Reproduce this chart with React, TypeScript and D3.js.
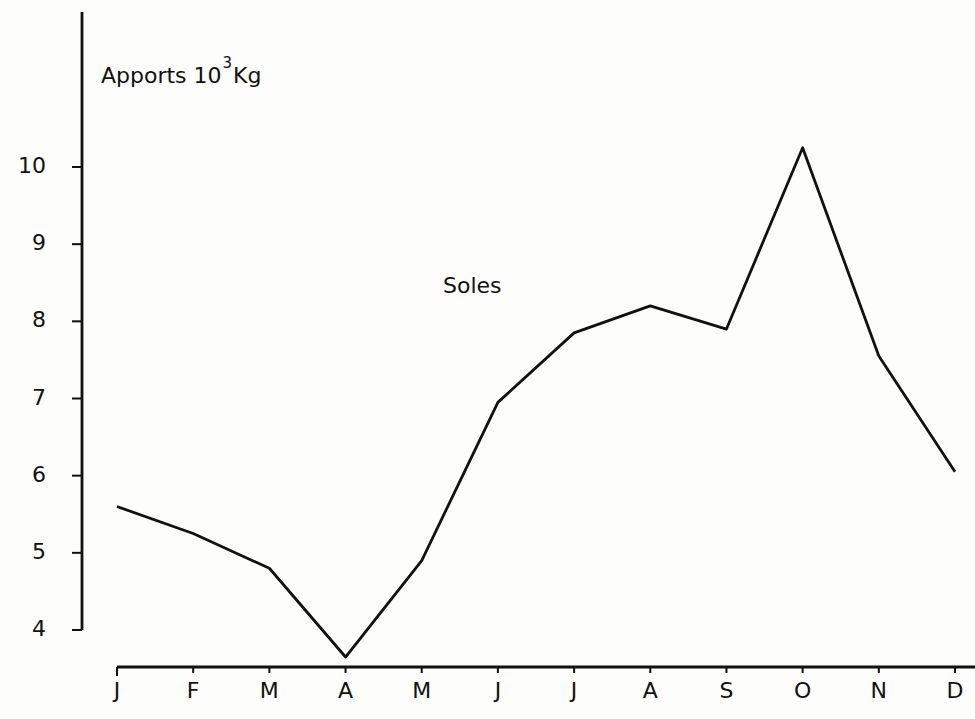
import React, { useEffect, useRef } from 'react';
import * as d3 from 'd3';

const months = ['J', 'F', 'M', 'A', 'M', 'J', 'J', 'A', 'S', 'O', 'N', 'D'];
const apports = [5.6, 5.25, 4.8, 3.65, 4.9, 6.95, 7.85, 8.2, 7.9, 10.25, 7.55, 6.05];
const yTicks = [4, 5, 6, 7, 8, 9, 10];

const W = 975;
const H = 719;
const FONT = "'DejaVu Sans', 'Noto Sans', sans-serif";

const App: React.FC = () => {
    const svgRef = useRef<SVGSVGElement>(null);

    useEffect(() => {
        if (!svgRef.current) return;
        const svg = d3.select(svgRef.current);
        svg.selectAll('*').remove();

        const x = d3.scalePoint<number>()
            .domain(d3.range(months.length))
            .range([117, 955]);
        const y = d3.scaleLinear().domain([4, 10]).range([630, 167]);

        const ink = '#111';

        // y axis: tall line, ticks pointing left
        svg.append('line')
            .attr('x1', 82).attr('x2', 82)
            .attr('y1', 12).attr('y2', y(4))
            .attr('stroke', ink).attr('stroke-width', 2.8);

        const yAxis = svg.append('g');
        yAxis.selectAll('line')
            .data(yTicks)
            .join('line')
            .attr('x1', 72).attr('x2', 82)
            .attr('y1', d => y(d)).attr('y2', d => y(d))
            .attr('stroke', ink).attr('stroke-width', 2);
        yAxis.selectAll('text')
            .data(yTicks)
            .join('text')
            .attr('x', 46)
            .attr('y', d => y(d))
            .attr('text-anchor', 'end')
            .attr('dominant-baseline', 'middle')
            .attr('font-family', FONT)
            .attr('font-size', 22)
            .attr('fill', ink)
            .text(d => d);

        // x axis: line from first month to the right edge, ticks pointing down
        const axisY = 667;
        svg.append('line')
            .attr('x1', x(0)!).attr('x2', W)
            .attr('y1', axisY).attr('y2', axisY)
            .attr('stroke', ink).attr('stroke-width', 2.8);

        const xAxis = svg.append('g');
        xAxis.selectAll('line')
            .data(months.map((_, i) => i))
            .join('line')
            .attr('x1', d => x(d)!).attr('x2', d => x(d)!)
            .attr('y1', axisY).attr('y2', d => axisY + (d === 0 ? 9 : 6))
            .attr('stroke', ink).attr('stroke-width', 2);
        xAxis.selectAll('text')
            .data(months)
            .join('text')
            .attr('x', (_, i) => x(i)!)
            .attr('y', 698)
            .attr('text-anchor', 'middle')
            .attr('font-family', FONT)
            .attr('font-size', 22)
            .attr('fill', ink)
            .text(d => d);

        // series
        const line = d3.line<number>()
            .x((_, i) => x(i)!)
            .y(d => y(d));
        svg.append('path')
            .datum(apports)
            .attr('d', line)
            .attr('fill', 'none')
            .attr('stroke', ink)
            .attr('stroke-width', 2.8)
            .attr('stroke-linejoin', 'round');

        // titles
        const title = svg.append('text')
            .attr('x', 101).attr('y', 83)
            .attr('font-family', FONT)
            .attr('font-size', 22)
            .attr('fill', ink);
        title.append('tspan').text('Apports 10');
        title.append('tspan').attr('dy', -15).attr('dx', 1).attr('font-size', 15).text('3');
        title.append('tspan').attr('dy', 15).attr('dx', 1).text('Kg');

        svg.append('text')
            .attr('x', 443).attr('y', 293)
            .attr('font-family', FONT)
            .attr('font-size', 22)
            .attr('fill', ink)
            .text('Soles');
    }, []);

    return (
        <svg
            ref={svgRef}
            width={W}
            height={H}
            style={{ position: 'absolute', left: 0, top: 0, background: '#fdfdfb' }}
        />
    );
};

export default App;
